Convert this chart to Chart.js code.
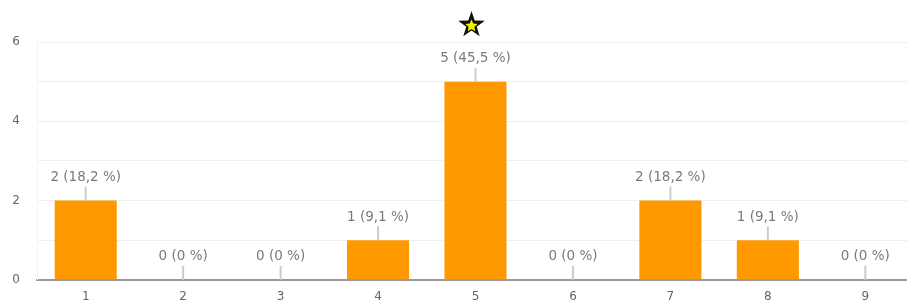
<!DOCTYPE html>
<html>
<head>
<meta charset="utf-8">
<script src="https://cdn.jsdelivr.net/npm/chart.js@4"></script>
<style>
  html, body { margin: 0; padding: 0; background: #fff; overflow: hidden; }
  #wrap { width: 914px; height: 304px; }
</style>
</head>
<body>
<div id="wrap"><canvas id="chart"></canvas></div>
<script>
let categories = ["1", "2", "3", "4", "5", "6", "7", "8", "9"];
let counts = [2, 0, 0, 1, 5, 0, 2, 1, 0];
let percents = ["18,2", "0", "0", "9,1", "45,5", "0", "18,2", "9,1", "0"];
let yTicks = [0, 2, 4, 6];

// labels above bars + star over the highest bar
const barLabels = {
    id: "barLabels",
    afterDatasetsDraw(chart) {
        let ctx = chart.ctx;
        let meta = chart.getDatasetMeta(0);
        let maxVal = Math.max(...counts);
        ctx.save();
        meta.data.forEach((bar, i) => {
            let x = bar.x, y = bar.y;
            ctx.strokeStyle = "#cccccc";
            ctx.lineWidth = 2;
            ctx.beginPath();
            ctx.moveTo(x, y);
            ctx.lineTo(x, y - 14);
            ctx.stroke();
            ctx.fillStyle = "#7a7a7a";
            ctx.font = "13.5px 'DejaVu Sans', sans-serif";
            ctx.textAlign = "center";
            ctx.textBaseline = "middle";
            ctx.fillText(counts[i] + " (" + percents[i] + " %)", x, y - 23);
            if (counts[i] === maxVal) drawStar(ctx, x - 4, 25);
        });
        ctx.restore();
    }
};

function starPath(ctx, cx, cy, R, r) {
    ctx.beginPath();
    for (let k = 0; k < 10; k++) {
        let rad = k % 2 === 0 ? R : r;
        let a = -Math.PI / 2 + k * Math.PI / 5;
        let px = cx + rad * Math.cos(a), py = cy + rad * Math.sin(a);
        k === 0 ? ctx.moveTo(px, py) : ctx.lineTo(px, py);
    }
    ctx.closePath();
}

function drawStar(ctx, cx, cy) {
    starPath(ctx, cx, cy, 14, 5.5);
    ctx.fillStyle = "#111";
    ctx.fill();
    starPath(ctx, cx, cy + 1, 6.5, 3);
    ctx.fillStyle = "#f2f200";
    ctx.fill();
}

new Chart(document.getElementById("chart"), {
    type: "bar",
    data: {
        labels: categories,
        datasets: [{
            data: counts,
            backgroundColor: "#ff9900",
            borderWidth: 0,
            categoryPercentage: 1,
            barPercentage: 0.637
        }]
    },
    options: {
        responsive: true,
        maintainAspectRatio: false,
        animation: false,
        layout: { padding: { top: 42, right: 0, left: 0, bottom: 0 } },
        plugins: { legend: { display: false }, tooltip: { enabled: false } },
        scales: {
            x: {
                grid: { display: false, drawTicks: false },
                border: { color: "#999", width: 2 },
                ticks: { color: "#666", font: { size: 12, family: "'DejaVu Sans'" }, padding: 10 },
                afterFit: s => { s.height = 23; }
            },
            y: {
                min: 0,
                max: 6,
                ticks: {
                    stepSize: 1,
                    color: "#666",
                    font: { size: 12, family: "'DejaVu Sans'" },
                    padding: 17,
                    callback: v => yTicks.includes(v) ? v : ""
                },
                grid: { color: "#efefef", drawTicks: false },
                border: { color: "#f4f4f4" },
                afterFit: s => { s.width = 37; }
            }
        }
    },
    plugins: [barLabels]
});
</script>
</body>
</html>
